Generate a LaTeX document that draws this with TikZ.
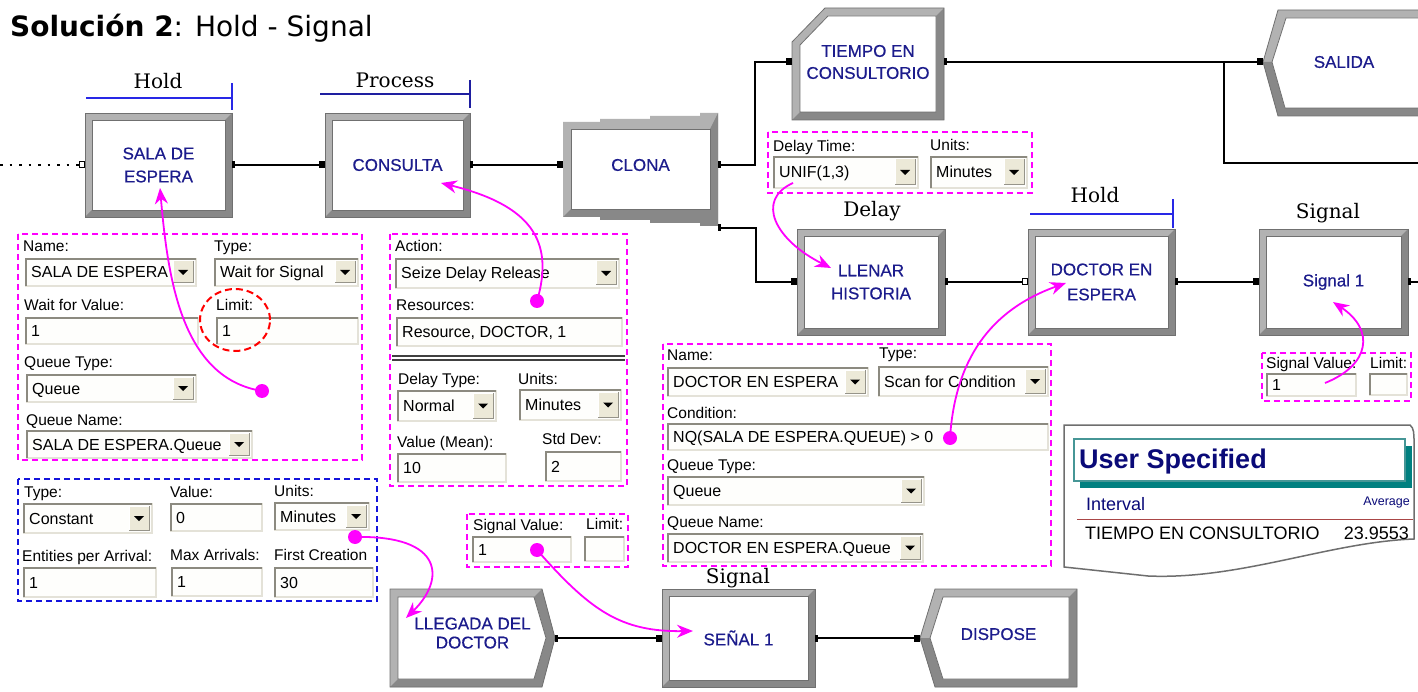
\documentclass[tikz,border=0pt]{standalone}
\usepackage{fontspec}
\setmainfont{Liberation Sans}
\newfontfamily\uisans{Liberation Sans}
\newfontfamily\modsans[FakeBold=0.5]{Liberation Sans}
\newfontfamily\stepserif{DejaVu Serif}
\newfontfamily\titlesans{DejaVu Sans}
\usetikzlibrary{arrows.meta,calc}

\definecolor{navytxt}{RGB}{28,28,140}
\definecolor{mag}{RGB}{255,0,255}
\definecolor{bvlite}{RGB}{178,178,178}
\definecolor{bvdark}{RGB}{136,136,136}
\definecolor{bvedge}{RGB}{112,112,112}
\definecolor{fldbg}{RGB}{254,254,252}
\definecolor{fldshade}{RGB}{140,138,128}
\definecolor{fldhi}{RGB}{228,226,216}
\definecolor{btnbg}{RGB}{236,233,216}
\definecolor{btnedge}{RGB}{150,148,138}
\definecolor{holdblue}{RGB}{40,40,230}
\definecolor{procblue}{RGB}{30,30,160}
\definecolor{tealc}{RGB}{0,128,128}
\definecolor{tealedge}{RGB}{70,150,150}
\definecolor{reportnavy}{RGB}{10,10,120}
\definecolor{rulered}{RGB}{170,70,70}
\definecolor{rptedge}{RGB}{110,110,110}
\definecolor{dashblue}{RGB}{20,20,220}

% dialog label: name, position, text
\newcommand\uilabel[3]{\node[lbltxt,anchor=base west] (#1) at (#2) {#3};}

% sunken text field: name, x1, y1, x2, y2, text
\newcommand\uifield[6]{%
  \fill[fldbg] (#2,#3) rectangle (#4,#5);
  \draw[fldhi,line width=1.5pt] (#2,#5) -- (#4,#5) -- (#4,#3);
  \draw[fldshade,line width=2.5pt] ({#2+1},#5) -- ({#2+1},{#3+1}) -- (#4,{#3+1});
  \node[fldtxt,anchor=base west] (#1) at ({#2+6},{(#3+#5)/2+6}) {#6};}

% drop-down list: a field with its arrow button
\newcommand\uidrop[6]{%
  \uifield{#1}{#2}{#3}{#4}{#5}{#6}%
  \fill[btnbg] ({#4-23},{#3+3}) rectangle ({#4-3},{#5-3});
  \draw[white,line width=1pt] ({#4-23},{#5-3}) -- ({#4-23},{#3+3}) -- ({#4-3},{#3+3});
  \draw[btnedge,line width=1pt] ({#4-23},{#5-3}) -- ({#4-3},{#5-3}) -- ({#4-3},{#3+3});
  \fill ({#4-18},{(#3+#5)/2-2}) -- ({#4-8},{(#3+#5)/2-2}) -- ({#4-13},{(#3+#5)/2+3}) -- cycle;}

% bevelled rectangular module: [node options] name, x1, y1, x2, y2, text
\newcommand\bevmod[7][]{%
  \fill[bvlite] (#3,#4) rectangle (#5,#6);
  \fill[bvdark] (#5,#4) -- (#5,#6) -- (#3,#6) -- ({#3+7},{#6-7}) -- ({#5-7},{#6-7}) -- ({#5-7},{#4+7}) -- cycle;
  \fill[white] ({#3+7},{#4+7}) rectangle ({#5-7},{#6-7});
  \draw[bvedge,line width=0.8pt] ({#3+7},{#4+7}) rectangle ({#5-7},{#6-7});
  \draw[bvedge,line width=0.8pt] (#3,#4) rectangle (#5,#6);
  \node[modnode,minimum width={#5-#3},minimum height={#6-#4},#1] (#2) at ({(#3+#5)/2},{(#4+#6)/2}) {#7};}

% connection pins
\newcommand\inpin[1]{\fill ($(#1.west)+(-6,-3.5)$) rectangle ($(#1.west)+(0,3.5)$);}
\newcommand\inpinopen[1]{\draw[line width=1pt,fill=white] ($(#1.west)+(-6,-3)$) rectangle ($(#1.west)+(-1,3)$);}
\newcommand\outpin[1]{\fill ($(#1.east)+(0,-3.5)$) rectangle ($(#1.east)+(3,3.5)$);}

\begin{document}
\begin{tikzpicture}[x=1pt,y=-1pt,
  modnode/.style={inner sep=0pt,outer sep=0pt,align=center,text=navytxt,font=\modsans\fontsize{17}{23}\selectfont},
  lbltxt/.style={inner sep=0pt,font=\uisans\fontsize{15.5}{18}\selectfont},
  fldtxt/.style={inner sep=0pt,font=\uisans\fontsize{16}{19}\selectfont},
  steplbl/.style={inner sep=0pt,anchor=base,font=\stepserif\fontsize{20}{24}\selectfont},
  wire/.style={line width=1.8pt,black},
  dlg/.style={draw=mag,line width=1.6pt,dash pattern=on 6pt off 4pt},
  dlgblue/.style={draw=dashblue,line width=1.6pt,dash pattern=on 6pt off 4pt},
  mdot/.style={circle,fill=mag,inner sep=0pt,minimum size=14pt},
  marrow/.style={draw=mag,line width=1.8pt,-{Stealth[length=16pt,width=13pt]}},
  flagline/.style={line width=2pt}]
\useasboundingbox (0,0) rectangle (1418,692);
\clip (0,0) rectangle (1418,692);

% ---------- title ----------
\node[anchor=base west,inner sep=0pt,font=\titlesans\fontsize{28}{31}\selectfont] (title) at (10,37) {\textbf{Solución 2}: Hold - Signal};

% ---------- module labels and flags ----------
\node[steplbl] (lblHoldA) at (158,89) {Hold};
\draw[holdblue,flagline] (86,98) -- (232,98);
\draw[holdblue,flagline] (232,83) -- (232,110);
\node[steplbl] (lblProc) at (395,88) {Process};
\draw[procblue,flagline] (320,94) -- (470,94);
\draw[procblue,flagline] (470,80) -- (470,108);
\node[steplbl] (lblDelay) at (872,217) {Delay};
\node[steplbl] (lblHoldB) at (1095,203) {Hold};
\draw[holdblue,flagline] (1030,214) -- (1173,214);
\draw[holdblue,flagline] (1173,199) -- (1173,228);
\node[steplbl] (lblSigA) at (1328,219) {Signal};
\node[steplbl] (lblSigB) at (738,583) {Signal};

% ---------- modules ----------
\bevmod{sala}{85}{113}{232}{217}{SALA DE\\ESPERA}
\bevmod{cons}{325}{113}{470}{217}{CONSULTA}

% Separate module (stepped outline)
\fill[bvlite] (563,122) -- (600,122) -- (600,119) -- (650,119) -- (650,116) -- (700,116) -- (700,113) -- (718,113)
  -- (718,226) -- (700,226) -- (700,223) -- (650,223) -- (650,220) -- (600,220) -- (600,217) -- (563,217) -- cycle;
\fill[bvdark] (718,113) -- (718,226) -- (700,226) -- (700,223) -- (650,223) -- (650,220) -- (600,220) -- (600,217) -- (563,217)
  -- (571,209) -- (710,209) -- (710,129) -- cycle;
\fill[white] (571,129) rectangle (710,209);
\draw[bvedge,line width=0.8pt] (571,129) rectangle (710,209);
\node[modnode,minimum width=155,minimum height=104] (clona) at (640.5,165) {CLONA};
\coordinate (clonaout) at (718,228);

% Record module (chamfered corner)
\fill[bvlite] (792,42) -- (825,8) -- (944,8) -- (944,120) -- (792,120) -- cycle;
\fill[bvdark] (944,8) -- (944,120) -- (792,120) -- (800,112) -- (936,112) -- (936,16) -- cycle;
\fill[white] (800,45) -- (828,16) -- (936,16) -- (936,112) -- (800,112) -- cycle;
\draw[bvedge,line width=0.8pt] (800,45) -- (828,16) -- (936,16) -- (936,112) -- (800,112) -- cycle;
\draw[bvedge,line width=0.8pt] (792,42) -- (825,8) -- (944,8) -- (944,120) -- (792,120) -- cycle;
\node[modnode,minimum width=152,minimum height=108,font=\modsans\fontsize{17}{22}\selectfont] (tiempo) at (868,62) {TIEMPO EN\\CONSULTORIO};

% Dispose module at top right
\fill[bvlite] (1263,62) -- (1278,10) -- (1430,10) -- (1430,116) -- (1278,116) -- cycle;
\fill[bvdark] (1263,62) -- (1278,116) -- (1430,116) -- (1430,108) -- (1285,108) -- (1272,62) -- cycle;
\fill[white] (1272,62) -- (1286,18) -- (1430,18) -- (1430,108) -- (1285,108) -- cycle;
\draw[bvedge,line width=0.8pt] (1272,62) -- (1286,18) -- (1430,18) -- (1430,108) -- (1285,108) -- cycle;
\draw[bvedge,line width=0.8pt] (1263,62) -- (1278,10) -- (1430,10) -- (1430,116) -- (1278,116) -- cycle;
\node[modnode,minimum width=162,minimum height=106] (salida) at (1344,62) {SALIDA};

\bevmod[font=\modsans\fontsize{17}{23}\selectfont]{llenar}{797}{229}{945}{335}{LLENAR\\HISTORIA}
\bevmod[font=\modsans\fontsize{17}{25}\selectfont]{doctor}{1028}{229}{1175}{335}{DOCTOR EN\\ESPERA}
\bevmod{sig}{1259}{229}{1408}{335}{Signal 1}

% Create module
\fill[bvlite] (390,589) -- (542,589) -- (555,638) -- (542,687) -- (390,687) -- cycle;
\fill[bvdark] (542,589) -- (555,638) -- (542,687) -- (390,687) -- (398,679) -- (534,679) -- (546,638) -- (534,597) -- cycle;
\fill[white] (398,597) -- (534,597) -- (546,638) -- (534,679) -- (398,679) -- cycle;
\draw[bvedge,line width=0.8pt] (398,597) -- (534,597) -- (546,638) -- (534,679) -- (398,679) -- cycle;
\draw[bvedge,line width=0.8pt] (390,589) -- (542,589) -- (555,638) -- (542,687) -- (390,687) -- cycle;
\node[modnode,minimum width=165,minimum height=98,text depth=10pt,font=\modsans\fontsize{17}{19}\selectfont] (llegada) at (472.5,638) {LLEGADA DEL\\DOCTOR};

\bevmod{senal}{662}{589}{815}{687}{SEÑAL 1}

% Dispose module at bottom
\fill[bvlite] (920,638) -- (935,589) -- (1077,589) -- (1077,687) -- (935,687) -- cycle;
\fill[bvdark] (1077,589) -- (1077,687) -- (935,687) -- (920,638) -- (930,638) -- (943,679) -- (1069,679) -- (1069,597) -- cycle;
\fill[white] (930,638) -- (943,597) -- (1069,597) -- (1069,679) -- (943,679) -- cycle;
\draw[bvedge,line width=0.8pt] (930,638) -- (943,597) -- (1069,597) -- (1069,679) -- (943,679) -- cycle;
\draw[bvedge,line width=0.8pt] (920,638) -- (935,589) -- (1077,589) -- (1077,687) -- (935,687) -- cycle;
\node[modnode,minimum width=157,minimum height=98,text depth=8pt] (dispose) at (998.5,638) {DISPOSE};

% ---------- connections ----------
\coordinate (leftin) at (0,165);
\coordinate (branch) at (1224,62);
\coordinate (rightout) at (1418,163);
\coordinate (sigout) at (1418,282);
\draw[wire,dash pattern=on 2.5pt off 7pt] (leftin) -- (sala.west);
\draw[wire] (sala.east) -- (cons.west);
\draw[wire] (cons.east) -- (clona.west);
\draw[wire] (clona.east) -- ++(37,0) |- (tiempo.west);
\draw[wire] (clonaout) -- ++(38,0) |- (llenar.west);
\draw[wire] (tiempo.east) -- (salida.west);
\draw[wire] (branch) |- (rightout);
\draw[wire] (llenar.east) -- (doctor.west);
\draw[wire] (doctor.east) -- (sig.west);
\draw[wire] (sig.east) -- (sigout);
\draw[wire] (llegada.east) -- (senal.west);
\draw[wire] (senal.east) -- (dispose.west);
\inpinopen{sala}
\outpin{sala}\inpin{cons}\outpin{cons}\inpin{clona}
\fill (718,161.5) rectangle (721,168.5);
\fill (718,224.5) rectangle (721,231.5);
\inpin{tiempo}\outpin{tiempo}\inpin{salida}
\inpin{llenar}\outpin{llenar}\inpinopen{doctor}\outpin{doctor}\inpin{sig}\outpin{sig}
\outpin{llegada}\inpin{senal}\outpin{senal}\inpin{dispose}

% ---------- Hold dialog (SALA DE ESPERA) ----------
\draw[dlg] (18,234) rectangle (362,460);
\uilabel{lName1}{23,252}{Name:}
\uidrop{fName1}{25}{258}{196}{286}{SALA DE ESPERA}
\uilabel{lType1}{214,252}{Type:}
\uidrop{fType1}{214}{258}{358}{286}{Wait for Signal}
\uilabel{lWait}{24,311}{Wait for Value:}
\uifield{fWait}{25}{317}{198}{344}{1}
\uilabel{lLimit1}{216,311}{Limit:}
\uifield{fLimit1}{216}{317}{358}{344}{1}
\uilabel{lQT1}{24,367}{Queue Type:}
\uidrop{fQT1}{26}{374}{196}{402}{Queue}
\uilabel{lQN1}{26,425}{Queue Name:}
\uidrop{fQN1}{26}{430}{252}{458}{SALA DE ESPERA.Queue}
\draw[red,line width=2pt,dash pattern=on 7pt off 4pt] (235,320) ellipse [x radius=35pt,y radius=31pt];

% ---------- Process dialog (CONSULTA) ----------
\draw[dlg] (390,234) rectangle (627,486);
\uilabel{lAction}{395,252}{Action:}
\uidrop{fAction}{395}{258}{619}{288}{Seize Delay Release}
\uilabel{lRes}{396,311}{Resources:}
\uifield{fRes}{396}{317}{622}{346}{Resource, DOCTOR, 1}
\draw[black!75,line width=1.2pt] (392,356) -- (625,356);
\draw[black!75,line width=1.2pt] (392,360) -- (625,360);
\uilabel{lDType}{398,384}{Delay Type:}
\uidrop{fDType}{397}{390}{496}{421}{Normal}
\uilabel{lUnits2}{518,384}{Units:}
\uidrop{fUnits2}{519}{389}{621}{420}{Minutes}
\uilabel{lMean}{397,447}{Value (Mean):}
\uifield{fMean}{397}{453}{506}{482}{10}
\uilabel{lStd}{542,444}{Std Dev:}
\uifield{fStd}{545}{451}{621}{481}{2}

% ---------- Create dialog (LLEGADA DEL DOCTOR) ----------
\draw[dlgblue] (18,479) rectangle (377,601);
\uilabel{lType3}{24,497}{Type:}
\uidrop{fType3}{23}{503}{152}{533}{Constant}
\uilabel{lValue3}{170,497}{Value:}
\uifield{fValue3}{170}{503}{262}{531}{0}
\uilabel{lUnits3}{274,496}{Units:}
\uidrop{fUnits3}{274}{502}{369}{530}{Minutes}
\uilabel{lEnt}{22,561}{Entities per Arrival:}
\uifield{fEnt}{23}{567}{156}{597}{1}
\uilabel{lMax}{170,560}{Max Arrivals:}
\uifield{fMax}{171}{567}{262}{596}{1}
\uilabel{lFirst}{274,560}{First Creation}
\uifield{fFirst}{274}{567}{373}{597}{30}

% ---------- Delay dialog (LLENAR HISTORIA) ----------
\draw[dlg] (768,132) rectangle (1032,193);
\uilabel{lDTime}{773,152}{Delay Time:}
\uidrop{fDTime}{773}{156}{918}{188}{UNIF(1,3)}
\uilabel{lUnits4}{930,151}{Units:}
\uidrop{fUnits4}{930}{156}{1027}{188}{Minutes}

% ---------- Hold dialog (DOCTOR EN ESPERA) ----------
\draw[dlg] (663,344) rectangle (1051,566);
\uilabel{lName5}{667,360}{Name:}
\uidrop{fName5}{667}{367}{868}{396}{DOCTOR EN ESPERA}
\uilabel{lType5}{879,359}{Type:}
\uidrop{fType5}{878}{366}{1048}{396}{Scan for Condition}
\uilabel{lCond}{667,418}{Condition:}
\uifield{fCond}{667}{423}{1048}{450}{NQ(SALA DE ESPERA.QUEUE) > 0}
\uilabel{lQT5}{667,470}{Queue Type:}
\uidrop{fQT5}{667}{476}{924}{505}{Queue}
\uilabel{lQN5}{667,527}{Queue Name:}
\uidrop{fQN5}{667}{533}{923}{562}{DOCTOR EN ESPERA.Queue}

% ---------- Signal dialogs ----------
\draw[dlg] (1262,353) rectangle (1411,401);
\uilabel{lSV6}{1266,368}{Signal Value:}
\uifield{fSV6}{1266}{373}{1356}{396}{1}
\uilabel{lLim6}{1370,368}{Limit:}
\uifield{fLim6}{1369}{373}{1407}{395}{}

\draw[dlg] (467,514) rectangle (628,567);
\uilabel{lSV7}{473,530}{Signal Value:}
\uifield{fSV7}{472}{536}{571}{562}{1}
\uilabel{lLim7}{586,529}{Limit:}
\uifield{fLim7}{584}{536}{624}{561}{}

% ---------- report ----------
\filldraw[fill=white,draw=rptedge,line width=1.5pt] (1064,425) -- (1410,425) .. controls (1414,428) and (1414,434) .. (1414,442)
  -- (1414,539) .. controls (1330,542) and (1240,580) .. (1148,576) -- (1064,567) -- cycle;
\fill[tealc] (1080,446) rectangle (1412,488);
\filldraw[fill=white,draw=tealedge,line width=1.5pt] (1074,439) rectangle (1405,481);
\node[anchor=base west,inner sep=0pt,text=reportnavy,font=\uisans\bfseries\fontsize{27}{30}\selectfont] (rptTitle) at (1079,468) {User Specified};
\node[anchor=base west,inner sep=0pt,text=reportnavy,font=\uisans\fontsize{18}{20}\selectfont] (rptInt) at (1086,510) {Interval};
\node[anchor=base east,inner sep=0pt,text=reportnavy,font=\uisans\fontsize{12.5}{14}\selectfont] (rptAvg) at (1410,505) {Average};
\draw[rulered,line width=1.5pt] (1077,519.5) -- (1413,519.5);
\node[anchor=base west,inner sep=0pt,font=\uisans\fontsize{18}{20}\selectfont] (rptName) at (1085,539) {TIEMPO EN CONSULTORIO};
\node[anchor=base east,inner sep=0pt,font=\uisans\fontsize{18}{20}\selectfont] (rptVal) at (1409,539) {23.9553};

% ---------- callout arrows ----------
\node[mdot] (dotA) at (262,391) {};
\node[mdot] (dotB) at (537,301) {};
\node[mdot] (dotC) at (355,537) {};
\node[mdot] (dotD) at (950,438) {};
\node[mdot] (dotE) at (537,550) {};
\coordinate (tipSala) at (160,188);
\coordinate (tipCons) at (441,183);
\coordinate (tipLleg) at (406,618);
\coordinate (srcUnif) at (793,183);
\coordinate (tipLlen) at (831,268);
\coordinate (tipDoc) at (1066,283);
\coordinate (srcSig) at (1325,383);
\coordinate (tipSig) at (1333,302);
\coordinate (tipSen) at (693,631);
\draw[marrow] (dotA.center) .. controls (182,378) and (168,280) .. (tipSala);
\draw[marrow] (dotB.center) .. controls (555,240) and (530,205) .. (tipCons);
\draw[marrow] (dotC.center) .. controls (445,535) and (445,580) .. (tipLleg);
\draw[marrow] (srcUnif) .. controls (755,200) and (775,240) .. (tipLlen);
\draw[marrow] (dotD.center) .. controls (955,360) and (990,310) .. (tipDoc);
\draw[marrow] (srcSig) .. controls (1370,365) and (1375,330) .. (tipSig);
\draw[marrow] (dotE.center) .. controls (590,610) and (620,632) .. (tipSen);
\end{tikzpicture}
\end{document}
